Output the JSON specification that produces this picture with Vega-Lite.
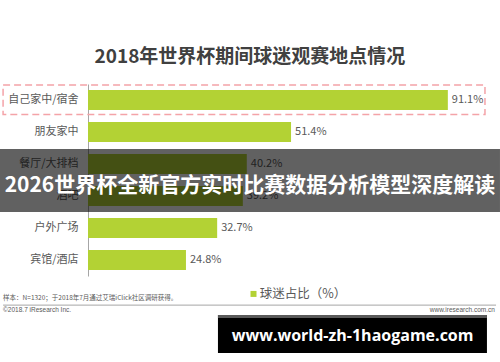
{
  "$schema": "https://vega.github.io/schema/vega-lite/v6.json",
  "width": 395,
  "height": 192,
  "autosize": {"type": "none"},
  "padding": {"left": 88, "top": 84, "right": 17, "bottom": 86},
  "background": "white",
  "config": {"view": {"stroke": null}},
  "layer": [
    {
      "data": {"values": [
        {"cat": "自己家中/宿舍", "value": 91.1, "label": "91.1%"},
        {"cat": "朋友家中", "value": 51.4, "label": "51.4%"},
        {"cat": "餐厅/大排档", "value": 40.2, "label": "40.2%"},
        {"cat": "酒吧", "value": 39.2, "label": "39.2%"},
        {"cat": "户外广场", "value": 32.7, "label": "32.7%"},
        {"cat": "宾馆/酒店", "value": 24.8, "label": "24.8%"}
      ]},
      "encoding": {
        "y": {"field": "cat", "type": "nominal", "sort": null,
          "scale": {"paddingInner": 0.375, "paddingOuter": 0.1875},
          "axis": {"title": null, "ticks": false, "grid": false, "domainColor": "#a6a6a6", "domainWidth": 1,
            "labelFont": "Noto Sans CJK SC", "labelFontSize": 11, "labelColor": "#595959", "labelPadding": 10}}
      },
      "layer": [
        {"mark": {"type": "bar", "color": "#b3d234"},
         "encoding": {"x": {"field": "value", "type": "quantitative", "scale": {"domain": [0, 100]}, "axis": null}}},
        {"mark": {"type": "text", "align": "left", "baseline": "middle", "dx": 4, "font": "Noto Sans CJK SC", "fontSize": 11, "color": "#595959"},
         "encoding": {"x": {"field": "value", "type": "quantitative", "scale": {"domain": [0, 100]}, "axis": null},
           "text": {"field": "label"}}}
      ]
    },
    {
      "data": {"values": [{}]},
      "layer": [
        {"mark": {"type": "rect", "fill": null, "fillOpacity": 0, "stroke": "#f4a3a8", "strokeWidth": 1.5, "strokeDash": [7, 4]},
         "encoding": {
           "x": {"datum": -21.5, "type": "quantitative", "scale": {"domain": [0, 100]}, "axis": null},
           "x2": {"datum": 100.5},
           "y": {"datum": 0.03, "type": "quantitative", "scale": {"domain": [0, 6], "reverse": true, "nice": false, "zero": false}, "axis": null},
           "y2": {"datum": 0.95}}},
        {"mark": {"type": "text", "text": "2018年世界杯期间球迷观赛地点情况", "align": "center", "baseline": "middle", "font": "Noto Sans CJK SC", "fontSize": 19, "fontWeight": "bold", "color": "#404040"},
         "encoding": {
           "x": {"datum": 41, "type": "quantitative", "scale": {"domain": [0, 100]}, "axis": null},
           "y": {"datum": -0.84, "type": "quantitative", "scale": {"domain": [0, 6], "reverse": true, "nice": false, "zero": false}, "axis": null}}},
        {"mark": {"type": "rect", "color": "#000000", "opacity": 0.62},
         "encoding": {
           "x": {"datum": -22.3, "type": "quantitative", "scale": {"domain": [0, 100]}, "axis": null},
           "x2": {"datum": 104.3},
           "y": {"datum": 2.03, "type": "quantitative", "scale": {"domain": [0, 6], "reverse": true, "nice": false, "zero": false}, "axis": null},
           "y2": {"datum": 4.0}}},
        {"mark": {"type": "text", "text": "2026世界杯全新官方实时比赛数据分析模型深度解读", "align": "center", "baseline": "middle", "font": "Noto Sans CJK SC", "fontSize": 21, "fontWeight": "bold", "color": "#ffffff"},
         "encoding": {
           "x": {"datum": 41, "type": "quantitative", "scale": {"domain": [0, 100]}, "axis": null},
           "y": {"datum": 3.19, "type": "quantitative", "scale": {"domain": [0, 6], "reverse": true, "nice": false, "zero": false}, "axis": null}}},
        {"mark": {"type": "point", "shape": "square", "filled": true, "size": 36, "color": "#b3d234", "opacity": 1},
         "encoding": {
           "x": {"datum": 41.9, "type": "quantitative", "scale": {"domain": [0, 100]}, "axis": null},
           "y": {"datum": 6.56, "type": "quantitative", "scale": {"domain": [0, 6], "reverse": true, "nice": false, "zero": false}, "axis": null}}},
        {"mark": {"type": "text", "text": "球迷占比（%）", "align": "left", "baseline": "middle", "font": "Noto Sans CJK SC", "fontSize": 12.5, "color": "#595959"},
         "encoding": {
           "x": {"datum": 43.5, "type": "quantitative", "scale": {"domain": [0, 100]}, "axis": null},
           "y": {"datum": 6.56, "type": "quantitative", "scale": {"domain": [0, 6], "reverse": true, "nice": false, "zero": false}, "axis": null}}},
        {"mark": {"type": "text", "text": "样本：N=1320；于2018年7月通过艾瑞iClick社区调研获得。", "align": "left", "baseline": "middle", "font": "Noto Sans CJK SC", "fontSize": 6.5, "color": "#595959"},
         "encoding": {
           "x": {"datum": -21.5, "type": "quantitative", "scale": {"domain": [0, 100]}, "axis": null},
           "y": {"datum": 6.69, "type": "quantitative", "scale": {"domain": [0, 6], "reverse": true, "nice": false, "zero": false}, "axis": null}}},
        {"mark": {"type": "rule", "color": "#a6a6a6", "strokeWidth": 1},
         "encoding": {
           "x": {"datum": -21.5, "type": "quantitative", "scale": {"domain": [0, 100]}, "axis": null},
           "x2": {"datum": 103.3},
           "y": {"datum": 6.91, "type": "quantitative", "scale": {"domain": [0, 6], "reverse": true, "nice": false, "zero": false}, "axis": null}}},
        {"mark": {"type": "text", "text": "©2018.7 iResearch Inc.", "align": "left", "baseline": "middle", "font": "Liberation Sans", "fontSize": 6.5, "color": "#595959"},
         "encoding": {
           "x": {"datum": -21.5, "type": "quantitative", "scale": {"domain": [0, 100]}, "axis": null},
           "y": {"datum": 7.06, "type": "quantitative", "scale": {"domain": [0, 6], "reverse": true, "nice": false, "zero": false}, "axis": null}}},
        {"mark": {"type": "text", "text": "www.iresearch.com.cn", "align": "right", "baseline": "middle", "font": "Liberation Sans", "fontSize": 6.5, "color": "#595959"},
         "encoding": {
           "x": {"datum": 103.0, "type": "quantitative", "scale": {"domain": [0, 100]}, "axis": null},
           "y": {"datum": 7.06, "type": "quantitative", "scale": {"domain": [0, 6], "reverse": true, "nice": false, "zero": false}, "axis": null}}},
        {"mark": {"type": "rect", "color": "#000000"},
         "encoding": {
           "x": {"datum": 32.9, "type": "quantitative", "scale": {"domain": [0, 100]}, "axis": null},
           "x2": {"datum": 101.0},
           "y": {"datum": 7.22, "type": "quantitative", "scale": {"domain": [0, 6], "reverse": true, "nice": false, "zero": false}, "axis": null},
           "y2": {"datum": 8.41}}},
        {"mark": {"type": "rect", "color": "#5a5a5a"},
         "encoding": {
           "x": {"datum": 32.9, "type": "quantitative", "scale": {"domain": [0, 100]}, "axis": null},
           "x2": {"datum": 101.0},
           "y": {"datum": 7.22, "type": "quantitative", "scale": {"domain": [0, 6], "reverse": true, "nice": false, "zero": false}, "axis": null},
           "y2": {"datum": 7.31}}},
        {"mark": {"type": "text", "text": "www.world-zh-1haogame.com", "align": "center", "baseline": "middle", "font": "Open Sans", "fontSize": 16, "fontWeight": "bold", "color": "#ffffff"},
         "encoding": {
           "x": {"datum": 67.0, "type": "quantitative", "scale": {"domain": [0, 100]}, "axis": null},
           "y": {"datum": 7.875, "type": "quantitative", "scale": {"domain": [0, 6], "reverse": true, "nice": false, "zero": false}, "axis": null}}}
      ]
    }
  ],
  "resolve": {"scale": {"y": "independent"}}
}
